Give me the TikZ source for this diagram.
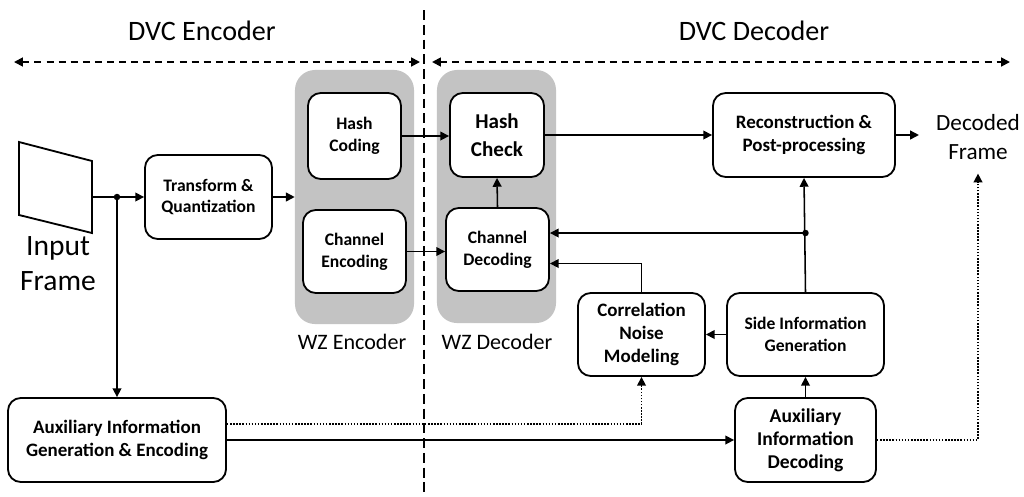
\documentclass[tikz,border=0pt]{standalone}
\usepackage{fontspec}
\setmainfont{Carlito}
\usetikzlibrary{arrows.meta,calc}
\definecolor{wzgrau}{HTML}{C3C3C3}
\tikzset{
  blk/.style={draw,fill=white,rounded corners=3.2mm,line width=1.3pt,align=center,inner sep=2pt,
    font=\fontsize{12.5}{15.5}\selectfont\bfseries},
  blkl/.style={blk,font=\fontsize{13.5}{16.4}\selectfont\bfseries},
  wzbox/.style={fill=wzgrau,rounded corners=5mm,inner sep=0pt},
  arr/.style={-{Triangle[length=2.2mm,width=2.2mm]},line width=1.1pt},
  dotarr/.style={-{Triangle[length=2.2mm,width=2.2mm]},line width=1.1pt,dash pattern=on 1.1pt off 1.1pt},
  span/.style={{Triangle[length=2.2mm,width=2.2mm]}-{Triangle[length=2.2mm,width=2.2mm]},line width=1.3pt,dash pattern=on 5pt off 3.6pt},
  grenze/.style={line width=0.9pt,dash pattern=on 7pt off 3.5pt},
  titel/.style={font=\fontsize{20}{24}\selectfont},
}
\begin{document}
\begin{tikzpicture}[x=0.025cm,y=-0.025cm]
  \useasboundingbox (0,0) rectangle (1024,496);
  % titles and divider
  \node[titel] (enclbl) at (202,31) {DVC Encoder};
  \node[titel] (declbl) at (754,31) {DVC Decoder};
  \draw[span] (14,62) -- (420,62);
  \draw[span] (432,62) -- (1010,62);
  \draw[grenze] (424,10) -- (424,496);
  % grey WZ groups
  \node[wzbox,minimum width=2.975cm,minimum height=6.35cm] (wzenc) at (354.5,197) {};
  \node[wzbox,minimum width=2.975cm,minimum height=6.325cm] (wzdec) at (496.5,196.5) {};
  \node[font=\fontsize{15.7}{19}\selectfont] (wzenclbl) at (352,342) {WZ Encoder};
  \node[font=\fontsize{15.7}{19}\selectfont] (wzdeclbl) at (497,342) {WZ Decoder};
  % input frame
  \draw[line width=1.3pt,line join=miter] (19,142) -- (92,161) -- (92,233) -- (19,215) -- cycle;
  \coordinate (frm) at (92,197);
  \node[align=center,font=\fontsize{21}{25}\selectfont] (inlbl) at (58,264) {Input\\Frame};
  % blocks
  \node[blk,minimum width=3.175cm,minimum height=2.1cm] (tq) at (208.5,197) {Transform \&\\Quantization};
  \node[blk,minimum width=2.325cm,minimum height=2.15cm] (hc) at (354.5,136) {Hash\\Coding};
  \node[blk,minimum width=2.575cm,minimum height=2.075cm] (ce) at (354.5,251.5) {Channel\\Encoding};
  \node[blk,minimum width=2.35cm,minimum height=2.1cm,font=\fontsize{15}{19.5}\selectfont\bfseries] (hk) at (497,135) {Hash\\Check};
  \node[blk,minimum width=2.575cm,minimum height=2.075cm] (cd) at (497.5,249.5) {Channel\\Decoding};
  \node[blkl,minimum width=4.55cm,minimum height=2.1cm] (rec) at (804,135) {Reconstruction \&\\Post-processing};
  \node[align=center,font=\fontsize{16.5}{21}\selectfont,inner sep=1pt] (dec) at (978,137) {Decoded\\Frame};
  \node[blkl,minimum width=3.175cm,minimum height=2.075cm] (cnm) at (641.5,334.5) {Correlation\\Noise\\Modeling};
  \node[blk,minimum width=3.925cm,minimum height=2.075cm] (si) at (805.5,334.5) {Side Information\\Generation};
  \node[blkl,minimum width=3.525cm,minimum height=2.1cm,font=\fontsize{13.9}{16.4}\selectfont\bfseries] (auxdec) at (805.5,440) {Auxiliary\\Information\\Decoding};
  \node[blkl,minimum width=5.45cm,minimum height=2.1cm] (auxgen) at (117,440) {Auxiliary Information\\Generation \& Encoding};
  % connectors
  \coordinate (split) at (117,197);
  \coordinate (sidot) at (805.5,233);
  \draw[arr] (frm) -- (tq.west);
  \fill (split) circle (2.3pt);
  \draw[arr] (split) -- (auxgen.north);
  \draw[arr] (tq.east) -- (tq.east -| wzenc.west);
  \draw[arr] (hc.east) -- (hc.east -| hk.west);
  \draw[arr] (ce.east) -- (ce.east -| cd.west);
  \draw[arr] (cd.north) -- (hk.south);
  \draw[arr] (hk.east) -- (hk.east -| rec.west);
  \draw[arr] (rec.east) -- ++(23,0);
  \draw[arr] (si.north) -- (rec.south);
  \fill (sidot) circle (2.3pt);
  \draw[arr] (sidot) -- (sidot -| cd.east);
  \draw[arr] (cnm.north) |- ([yshift=-3.5mm]cd.east);
  \draw[arr] (si.west) -- (cnm.east);
  \draw[arr] (auxdec.north) -- (si.south);
  \draw[arr] (auxgen.east) -- (auxdec.west);
  \draw[dotarr] ([yshift=4mm]auxgen.east) -| (cnm.south);
  \draw[dotarr] (auxdec.east) -| ([yshift=-3mm]dec.south);
\end{tikzpicture}
\end{document}
